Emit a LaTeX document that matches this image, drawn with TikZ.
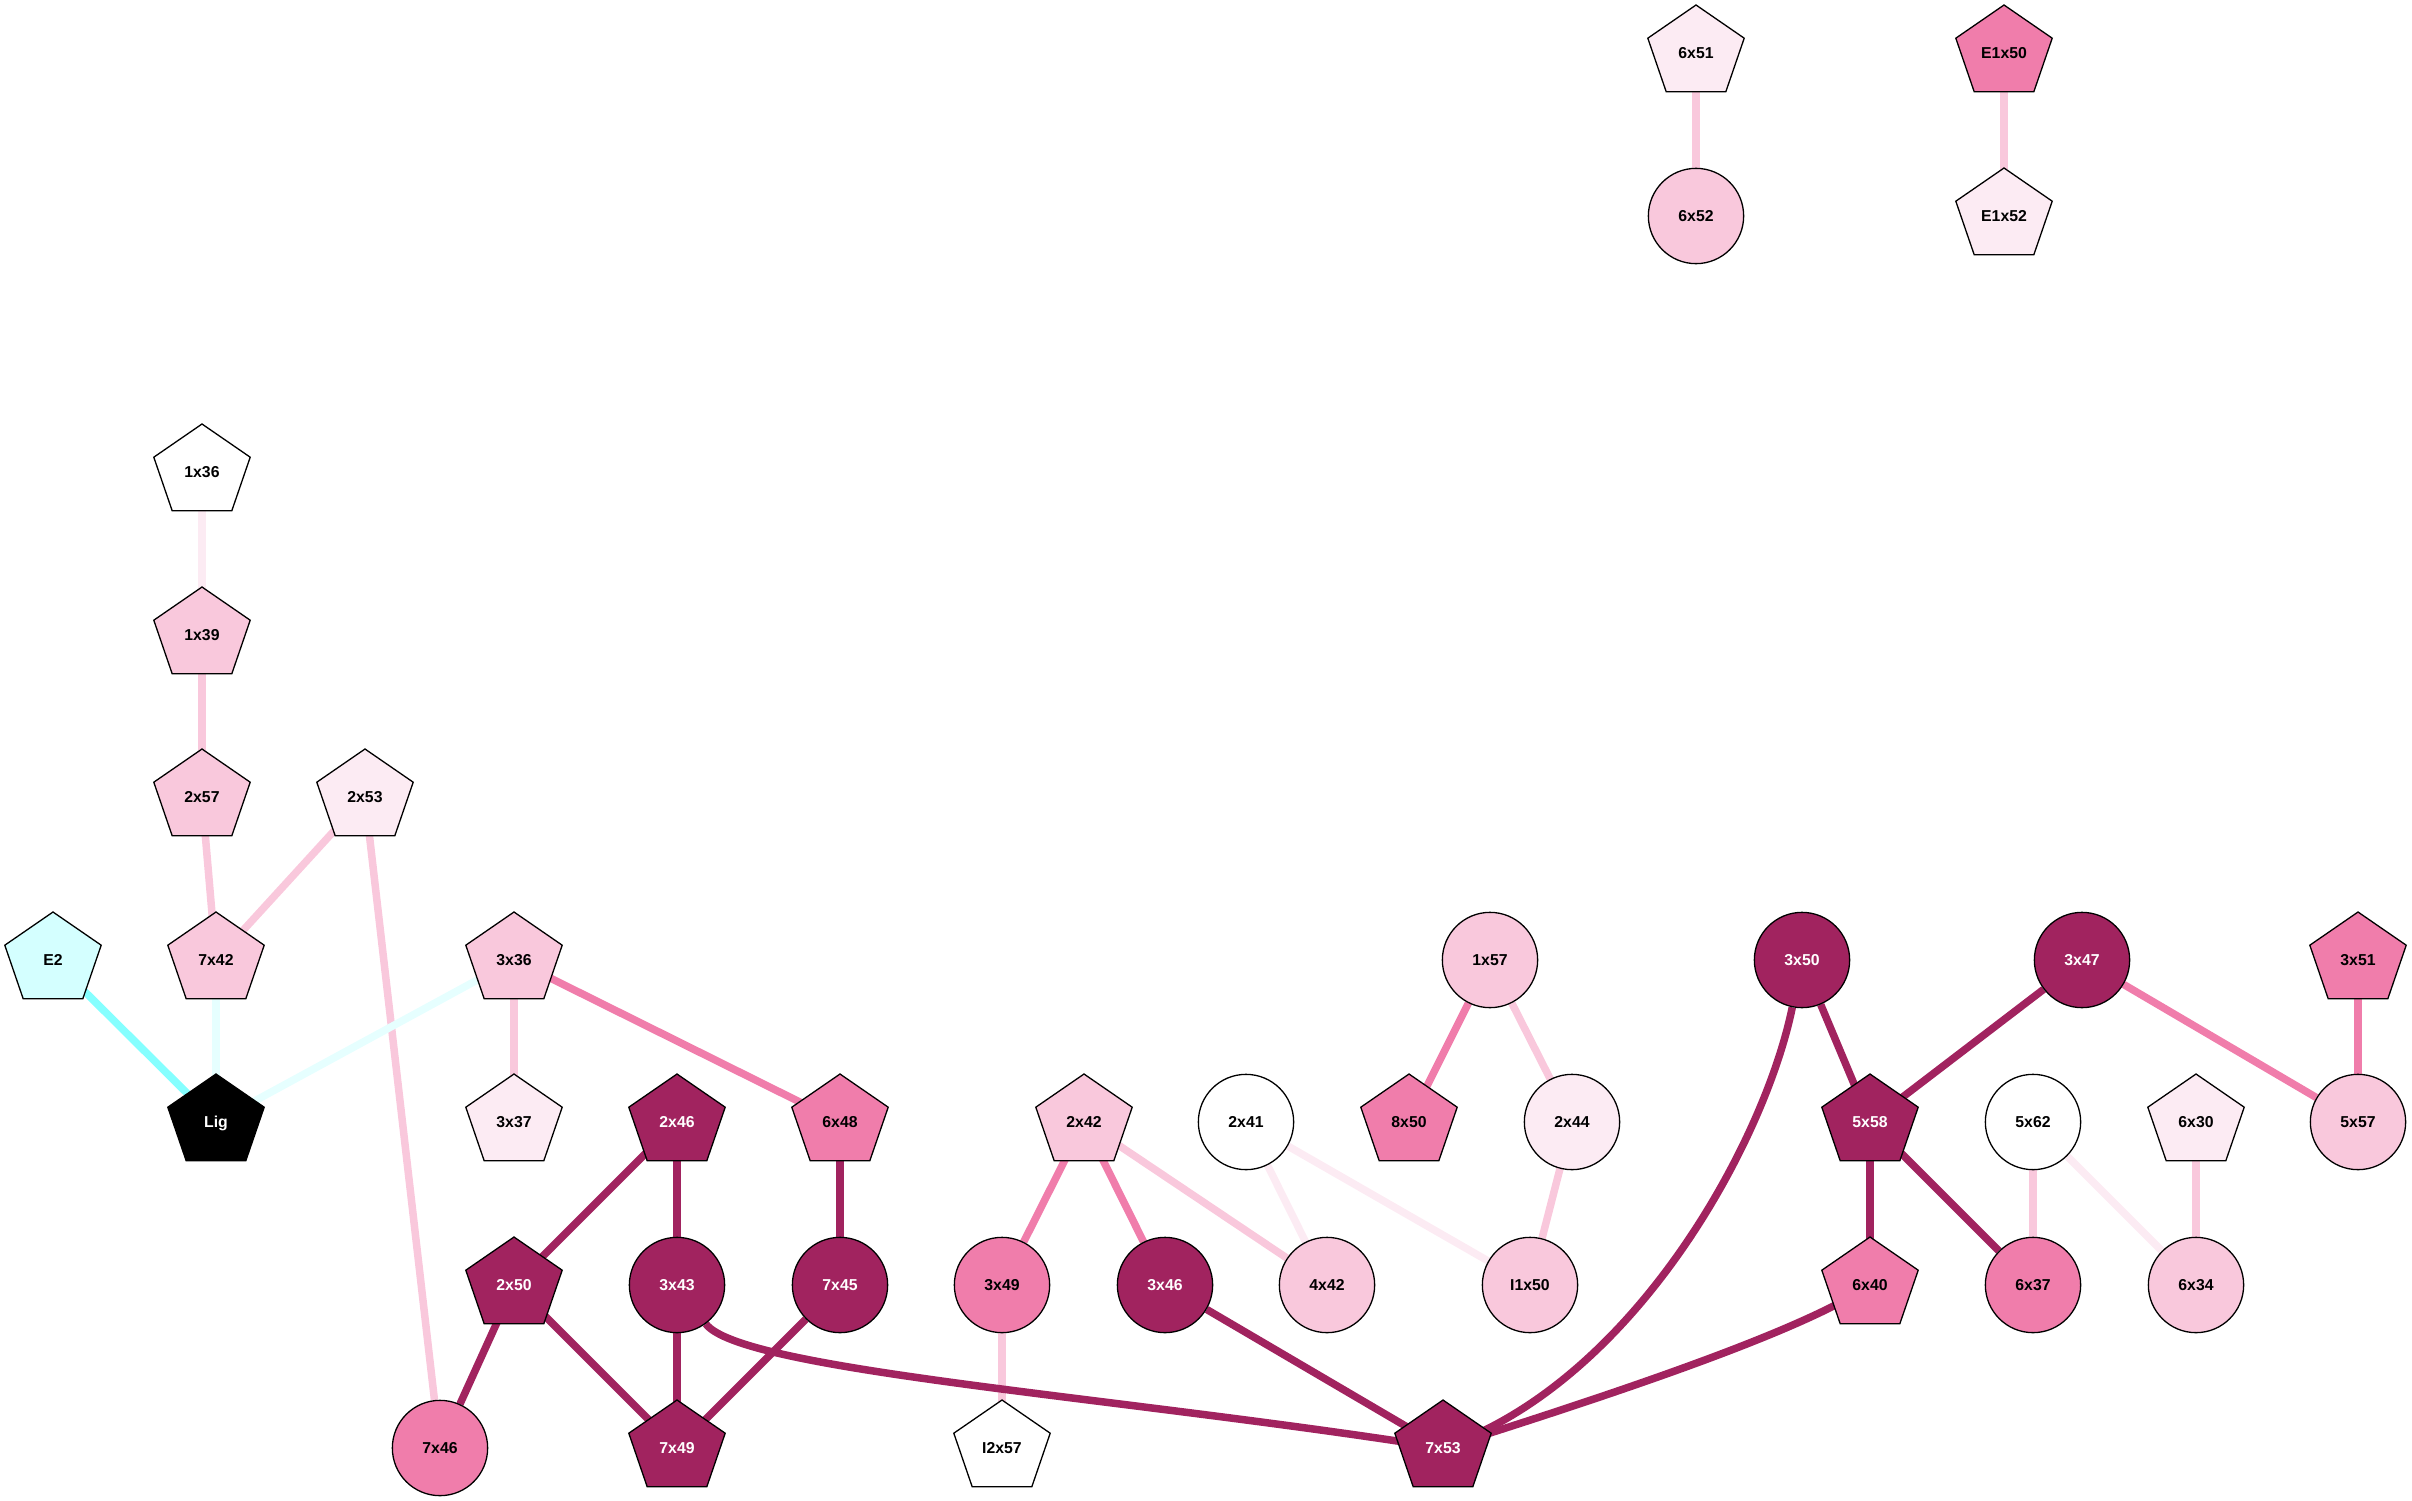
\documentclass[tikz,border=0pt]{standalone}
\usepackage{fontspec}
\setmainfont{Liberation Sans}
\usetikzlibrary{backgrounds}
\definecolor{cdark}{HTML}{A1235F}
\definecolor{cmed}{HTML}{F07DAB}
\definecolor{clight}{HTML}{F9C8DC}
\definecolor{cvlight}{HTML}{FCEBF3}
\definecolor{ccyan}{HTML}{D4FFFF}
\definecolor{ccyanedge}{HTML}{85FFFF}
\definecolor{cfaint}{HTML}{E6FFFF}
\tikzset{
  x=1pt, y=-1pt,
  lbl/.style={font=\bfseries\fontsize{15.8}{18}\selectfont, inner sep=0pt, text height=11.4pt, text depth=0pt},
  circ/.style={lbl, circle, draw=black, line width=1.3pt, minimum size=95.3pt},
  pics/pentshape/.style={code={\filldraw[draw=black, line width=1.3pt, fill=#1, line join=miter] (0,-48)--(48.2,-14.8)--(29.8,38.8)--(-29.8,38.8)--(-48.2,-14.8)--cycle;}},
  lk/.style={line width=7.5pt},
  ldark/.style={lk, draw=cdark},
  lmed/.style={lk, draw=cmed},
  llight/.style={lk, draw=clight},
  lvlight/.style={lk, draw=cvlight},
  lcyan/.style={lk, draw=ccyanedge},
  lfaint/.style={lk, draw=cfaint},
}
\newcommand\pentnode[5]{\pic at (#2) {pentshape=#3}; \node[lbl,text=#4] (#1) at (#2) {#5};}
\newcommand\circnode[5]{\node[circ,fill=#3,text=#4] (#1) at (#2) {#5};}
\begin{document}
\begin{tikzpicture}
\useasboundingbox (0,0) rectangle (2412,1501);
% row 0
\pentnode{n6x51}{1696,53}{cvlight}{black}{6x51}
\pentnode{nE1x50}{2004,53}{cmed}{black}{E1x50}
% row 1
\circnode{n6x52}{1696,216}{clight}{black}{6x52}
\pentnode{nE1x52}{2004,216}{cvlight}{black}{E1x52}
% rows 2-4
\pentnode{n1x36}{202,472}{white}{black}{1x36}
\pentnode{n1x39}{202,635}{clight}{black}{1x39}
\pentnode{n2x57}{202,797}{clight}{black}{2x57}
\pentnode{n2x53}{365,797}{cvlight}{black}{2x53}
% row 5
\pentnode{nE2}{53,960}{ccyan}{black}{E2}
\pentnode{n7x42}{216,960}{clight}{black}{7x42}
\pentnode{n3x36}{514,960}{clight}{black}{3x36}
\circnode{n1x57}{1490,960}{clight}{black}{1x57}
\circnode{n3x50}{1802,960}{cdark}{white}{3x50}
\circnode{n3x47}{2082,960}{cdark}{white}{3x47}
\pentnode{n3x51}{2358,960}{cmed}{black}{3x51}
% row 6
\pentnode{nLig}{216,1122}{black}{white}{Lig}
\pentnode{n3x37}{514,1122}{cvlight}{black}{3x37}
\pentnode{n2x46}{677,1122}{cdark}{white}{2x46}
\pentnode{n6x48}{840,1122}{cmed}{black}{6x48}
\pentnode{n2x42}{1084,1122}{clight}{black}{2x42}
\circnode{n2x41}{1246,1122}{white}{black}{2x41}
\pentnode{n8x50}{1409,1122}{cmed}{black}{8x50}
\circnode{n2x44}{1572,1122}{cvlight}{black}{2x44}
\pentnode{n5x58}{1870,1122}{cdark}{white}{5x58}
\circnode{n5x62}{2033,1122}{white}{black}{5x62}
\pentnode{n6x30}{2196,1122}{cvlight}{black}{6x30}
\circnode{n5x57}{2358,1122}{clight}{black}{5x57}
% row 7
\pentnode{n2x50}{514,1285}{cdark}{white}{2x50}
\circnode{n3x43}{677,1285}{cdark}{white}{3x43}
\circnode{n7x45}{840,1285}{cdark}{white}{7x45}
\circnode{n3x49}{1002,1285}{cmed}{black}{3x49}
\circnode{n3x46}{1165,1285}{cdark}{white}{3x46}
\circnode{n4x42}{1327,1285}{clight}{black}{4x42}
\circnode{nI1x50}{1530,1285}{clight}{black}{I1x50}
\pentnode{n6x40}{1870,1285}{cmed}{black}{6x40}
\circnode{n6x37}{2033,1285}{cmed}{black}{6x37}
\circnode{n6x34}{2196,1285}{clight}{black}{6x34}
% row 8
\circnode{n7x46}{440,1448}{cmed}{black}{7x46}
\pentnode{n7x49}{677,1448}{cdark}{white}{7x49}
\pentnode{nI2x57}{1002,1448}{white}{black}{I2x57}
\pentnode{n7x53}{1443,1448}{cdark}{white}{7x53}
% connectors
\begin{pgfonlayer}{background}
\draw[llight] (n6x51) -- (n6x52);
\draw[llight] (nE1x50) -- (nE1x52);
\draw[lvlight] (n1x36) -- (n1x39);
\draw[llight] (n1x39) -- (n2x57);
\draw[llight] (n2x57) -- (n7x42);
\draw[llight] (n2x53) -- (n7x42);
\draw[llight] (n2x53) -- (n7x46);
\draw[lcyan] (nE2) -- (nLig);
\draw[lfaint] (n7x42) -- (nLig);
\draw[lfaint] (n3x36) -- (nLig);
\draw[llight] (n3x36) -- (n3x37);
\draw[lmed] (n3x36) -- (n6x48);
\draw[lmed] (n1x57) -- (n8x50);
\draw[llight] (n1x57) -- (n2x44);
\draw[llight] (n2x44) -- (nI1x50);
\draw[lvlight] (n2x41) -- (n4x42);
\draw[lvlight] (n2x41) -- (nI1x50);
\draw[lmed] (n2x42) -- (n3x49);
\draw[lmed] (n2x42) -- (n3x46);
\draw[llight] (n2x42) -- (n4x42);
\draw[llight] (n3x49) -- (nI2x57);
\draw[ldark] (n2x46) -- (n2x50);
\draw[ldark] (n2x46) -- (n3x43);
\draw[ldark] (n6x48) -- (n7x45);
\draw[ldark] (n2x50) -- (n7x46);
\draw[ldark] (n2x50) -- (n7x49);
\draw[ldark] (n3x43) -- (n7x49);
\draw[ldark] (n7x45) -- (n7x49);
\draw[ldark] (n3x43) .. controls (740,1370) and (1100,1395) .. (n7x53);
\draw[ldark] (n3x46) -- (n7x53);
\draw[ldark] (n3x50) .. controls (1765,1140) and (1640,1370) .. (n7x53);
\draw[ldark] (n3x50) -- (n5x58);
\draw[ldark] (n3x47) -- (n5x58);
\draw[lmed] (n3x47) -- (n5x57);
\draw[lmed] (n3x51) -- (n5x57);
\draw[ldark] (n5x58) -- (n6x40);
\draw[ldark] (n5x58) -- (n6x37);
\draw[ldark] (n6x40) .. controls (1790,1335) and (1610,1395) .. (n7x53);
\draw[llight] (n5x62) -- (n6x37);
\draw[lvlight] (n5x62) -- (n6x34);
\draw[llight] (n6x30) -- (n6x34);
\end{pgfonlayer}
\end{tikzpicture}
\end{document}
